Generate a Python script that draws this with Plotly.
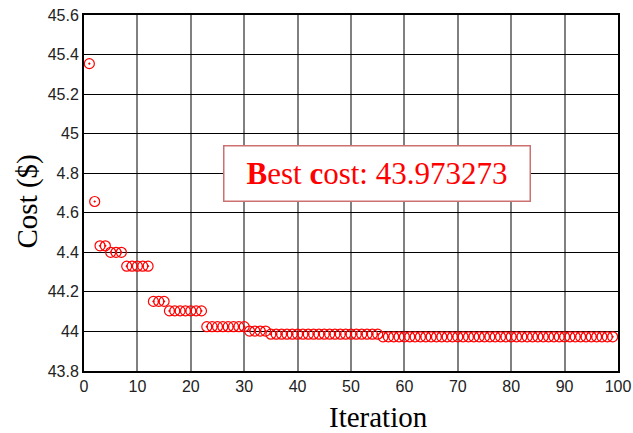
import plotly.graph_objects as go

# Data
levels = [45.354, 44.657, 44.433, 44.400, 44.330, 44.152, 44.104, 44.024, 44.002, 43.986, 43.973]
counts = [1, 1, 2, 3, 5, 3, 7, 8, 4, 21, 44]

iterations = []
costs = []
it = 1
for lv, c in zip(levels, counts):
    for _ in range(c):
        iterations.append(it)
        costs.append(lv)
        it += 1

ytick_vals = [43.8, 44.0, 44.2, 44.4, 44.6, 44.8, 45.0, 45.2, 45.4, 45.6]
ytick_text = ["43.8", "44", "44.2", "4.4", "4.6", "4.8", "45", "45.2", "45.4", "45.6"]
xtick_vals = [0, 10, 20, 30, 40, 50, 60, 70, 80, 90, 100]

W, H = 633, 433
ML, MR, MT, MB = 84, 15, 15, 62
PW, PH = W - ML - MR, H - MT - MB

fig = go.Figure()
fig.add_trace(go.Scatter(
    x=iterations, y=costs, mode="markers",
    marker=dict(symbol="circle-open-dot", size=10, color="red",
                line=dict(color="red", width=1.2)),
    showlegend=False,
))

fig.add_annotation(
    x=(376.5 - ML) / PW, y=1 - (173 - MT) / PH, xref="paper", yref="paper",
    text="<b>B</b>est <b>c</b>ost: 43.973273",
    showarrow=False,
    font=dict(family="Liberation Serif", size=31, color="red"),
    bgcolor="white", bordercolor="#cc7070", borderwidth=1.5,
    width=301, height=50, borderpad=2,
)
# axis titles
fig.add_annotation(
    x=(378 - ML) / PW, y=-(417 - MT - PH) / PH, xref="paper", yref="paper",
    text="Iteration", showarrow=False,
    font=dict(family="Liberation Serif", size=29, color="black"),
    xanchor="center", yanchor="middle", borderpad=0,
)
fig.add_annotation(
    x=(27 - ML) / PW, y=1 - (201.5 - MT) / PH, xref="paper", yref="paper",
    text="Cost ($)", showarrow=False, textangle=-90,
    font=dict(family="Liberation Serif", size=29, color="black"),
    xanchor="center", yanchor="middle",
)

fig.update_layout(
    width=W, height=H,
    margin=dict(l=ML, r=MR, t=MT, b=MB, autoexpand=False),
    paper_bgcolor="white", plot_bgcolor="white",
    font=dict(family="Liberation Sans", size=16, color="#222222"),
)
fig.update_xaxes(
    range=[0, 100], tickvals=xtick_vals, automargin=False,
    showgrid=True, gridcolor="#808080", gridwidth=1.5,
    showline=True, linecolor="black", linewidth=2, mirror=True,
    zeroline=False, ticks="",
)
fig.update_yaxes(
    range=[43.8, 45.6], tickvals=ytick_vals, ticktext=ytick_text, automargin=False,
    showgrid=True, gridcolor="black", gridwidth=1,
    showline=True, linecolor="black", linewidth=2, mirror=True,
    zeroline=False, ticks="",
)

fig.write_html("out.html")
